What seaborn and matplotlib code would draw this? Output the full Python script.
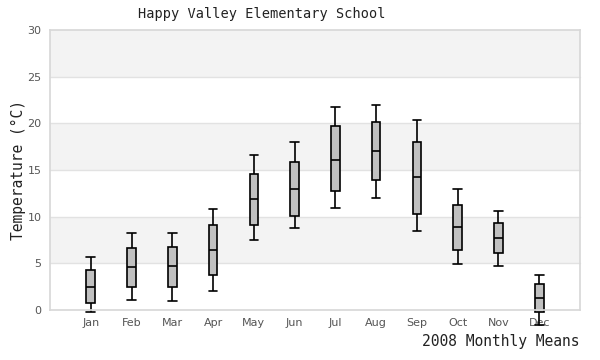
import pandas as pd
import matplotlib.pyplot as plt
import seaborn as sns

#Monthly stats (deg C)
months = ["Jan", "Feb", "Mar", "Apr", "May", "Jun",
          "Jul", "Aug", "Sep", "Oct", "Nov", "Dec"]
lows = [-0.2, 1.1, 1.0, 2.0, 7.5, 8.8, 10.9, 12.0, 8.5, 4.9, 4.7, -1.6]
q1s = [0.8, 2.5, 2.5, 3.7, 9.1, 10.1, 12.8, 13.9, 10.3, 6.4, 6.1, -0.25]
medians = [2.5, 4.6, 4.7, 6.4, 11.9, 13.0, 16.1, 17.0, 14.2, 8.9, 7.7, 1.3]
q3s = [4.3, 6.6, 6.7, 9.1, 14.6, 15.9, 19.7, 20.1, 18.0, 11.3, 9.3, 2.75]
highs = [5.7, 8.2, 8.3, 10.8, 16.6, 18.0, 21.8, 22.0, 20.4, 13.0, 10.6, 3.7]

#Five points per month give exactly these quartiles with min/max whiskers
rows = []
for m, lo, a, md, b, hi in zip(months, lows, q1s, medians, q3s, highs):
    for v in (lo, a, md, b, hi):
        rows.append({"Month": m, "Temp": v})
df = pd.DataFrame(rows)

sns.set_theme(style="white")
mono = "DejaVu Sans Mono"

fig = plt.figure(figsize=(6, 3.6), dpi=100)
ax = fig.add_axes([50/600, 1 - 310/360, 530/600, 280/360])

#Alternating background bands
for lo_b in range(5, 30, 10):
    ax.axhspan(lo_b, lo_b + 5, color="#f3f3f3", zorder=0, lw=0)
for y in range(5, 30, 5):
    ax.axhline(y, color="#e2e2e2", lw=1, zorder=0.5)

sns.boxplot(data=df, x="Month", y="Temp", order=months, whis=(0, 100),
            width=0.21, color="#c0c0c0", linecolor="black", linewidth=1.2,
            saturation=1, capwidths=0.21, ax=ax)

for art in ax.lines + ax.patches:
    art.set_clip_on(False)

ax.set_ylim(0, 30)
ax.set_xlim(-1, 12)
ax.set_yticks(range(0, 31, 5))
ax.tick_params(length=0, labelsize=8, colors="#555555", pad=6)
for s in ax.spines.values():
    s.set_color("#d8d8d8")

#Title sits left of centre in the original
fig.text(262/600, 1 - 14/360, "Happy Valley Elementary School", family=mono,
         fontsize=9.8, color="#222222", ha="center", va="center")
ax.set_ylabel("Temperature (°C)", family=mono, fontsize=10.5, color="#222222",
              labelpad=1)
ax.set_xlabel("2008 Monthly Means", family=mono, fontsize=10.5,
              color="#222222", loc="right", labelpad=4)

fig.savefig("out.png", dpi=100)
